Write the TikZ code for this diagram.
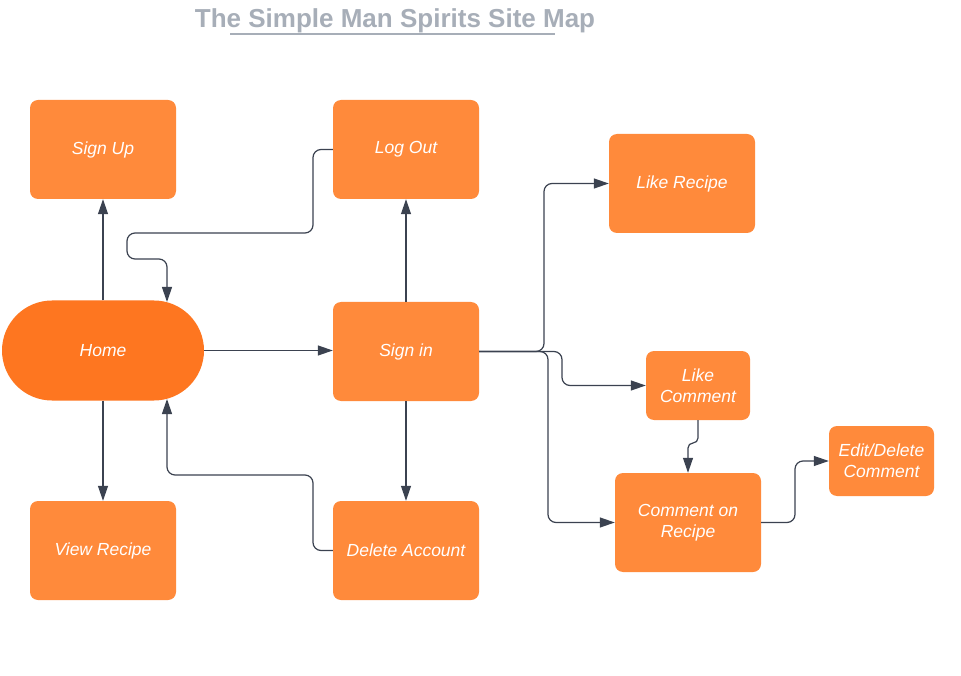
\documentclass[tikz,border=0pt]{standalone}
\usepackage{fontspec}
\setmainfont{Liberation Sans}
\usetikzlibrary{arrows.meta}
\definecolor{boxor}{HTML}{FF8A3B}
\definecolor{homeor}{HTML}{FE7620}
\definecolor{lnc}{HTML}{3B4250}
\definecolor{ttl}{HTML}{A7AEB8}
\begin{document}
\begin{tikzpicture}[x=1pt,y=-1pt,
  box/.style={draw=none, fill=boxor, rounded corners=8pt, minimum width=146pt, minimum height=99pt,
    text=white, font=\fontsize{17.5}{21}\selectfont\itshape, align=center, inner sep=0pt},
  smallbox/.style={box, minimum width=104pt, minimum height=69pt},
  homebox/.style={box, fill=homeor, rounded corners=50pt, minimum width=202pt, minimum height=100pt},
  conn/.style={draw=lnc, line width=1.2pt, rounded corners=8pt, -{Triangle[length=15pt,width=10pt]}}]
\fill[white] (0,0) rectangle (961,676);
\useasboundingbox (0,0) rectangle (961,676);
% title
\node[anchor=base, text=ttl, font=\fontsize{26}{30}\selectfont\bfseries, inner sep=0pt] (title) at (395,28) {The Simple Man Spirits Site Map};
\coordinate (ul1) at (230,34);
\coordinate (ul2) at (555,34);
\draw[ttl, line width=2pt] (ul1) -- (ul2);
% nodes
\node[box] (signup) at (103,149.5) {Sign Up};
\node[box] (logout) at (406,149.5) {Log Out};
\node[box] (likerecipe) at (682,183.5) {Like Recipe};
\node[homebox] (home) at (103,350.5) {Home};
\node[box] (signin) at (406,351.5) {Sign in};
\node[smallbox] (likecomment) at (698,385.5) {Like\\Comment};
\node[smallbox, minimum width=105pt, minimum height=70pt] (editdel) at (881.5,461) {Edit/Delete\\Comment};
\node[box] (commentrecipe) at (688,522.5) {Comment on\\Recipe};
\node[box] (viewrecipe) at (103,550.5) {View Recipe};
\node[box] (delacc) at (406,550.5) {Delete Account};
% helper coordinates
\coordinate (hin1) at (167,302);
\coordinate (hin2) at (167,399);
% connectors
\draw[conn] (home.north) -- (signup.south);
\draw[conn] (logout.west) -- (313,149.5) -- (313,233) -- (127,233) -- (127,259) -- (167,259) -- (hin1);
\draw[conn] (home.east) -- (home.east -| signin.west);
\draw[conn] (signin.north) -- (logout.south);
\draw[conn] (signin.south) -- (delacc.north);
\draw[conn] (delacc.west) -- (313,550.5) -- (313,475) -- (167,475) -- (hin2);
\draw[conn] (home.south) -- (viewrecipe.north);
\draw[conn] (signin.east) -- (544,351.5) -- (544,183.5) -- (likerecipe.west);
\draw[conn] (signin.east) -- (562,351.5) -- (562,385.5) -- (likecomment.west);
\draw[conn] (signin.east) -- (548,351.5) -- (548,522.5) -- (commentrecipe.west);
\draw[conn, rounded corners=5pt] (likecomment.south) -- (698,443) -- (688,443) -- (commentrecipe.north);
\draw[conn] (commentrecipe.east) -- (795,522.5) -- (795,461) -- (editdel.west);
\end{tikzpicture}
\end{document}
